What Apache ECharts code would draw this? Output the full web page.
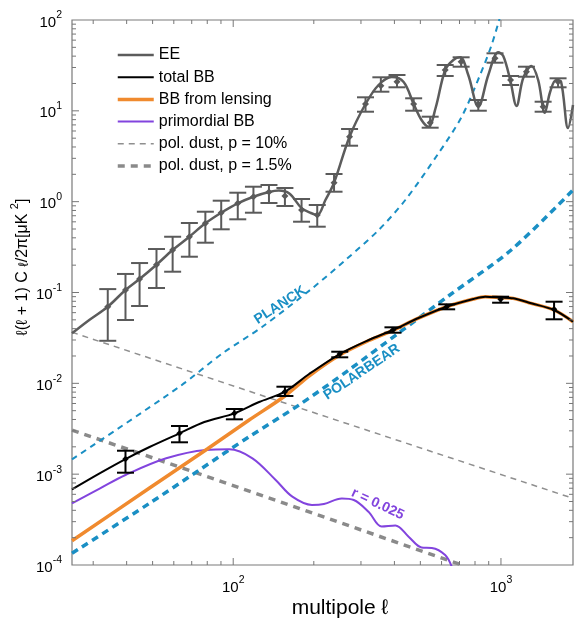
<!DOCTYPE html>
<html><head><meta charset="utf-8">
<script src="https://cdn.jsdelivr.net/npm/echarts@6/dist/echarts.min.js"></script>
<style>html,body{margin:0;padding:0;background:#fff}#c{width:576px;height:619px}</style>
</head><body><div id="c"></div>
<script>
// ---- multipole range and axis ticks ----
const xRange = [25, 1858];
const yRange = [1e-4, 100];
const xTickMajor = [100, 1000];
const xDecades = [10, 100, 1000];
const yTickMajor = [1e-3, 1e-2, 1e-1, 1, 10];
const yDecades = [1e-4, 1e-3, 1e-2, 1e-1, 1, 10];
const minorSteps = [2, 3, 4, 5, 6, 7, 8, 9];

// ---- EE theory curve ----
const eeCurveL = [25, 29, 34, 39.6, 44.7, 51.7, 59.4, 68.6, 78.7, 90.2, 104, 119, 136, 148, 162, 180, 195, 206, 221, 238, 272, 312, 349, 391, 433, 472, 505, 536, 570, 619, 664, 704, 755, 823, 897, 977, 1020, 1083, 1143, 1211, 1300, 1377, 1458, 1526, 1607, 1677, 1780, 1858];
const eeCurveV = [0.0355, 0.0498, 0.0698, 0.1065, 0.1408, 0.2023, 0.2938, 0.4113, 0.5777, 0.7559, 0.959, 1.134, 1.277, 1.327, 1.230, 0.85, 0.750, 0.713, 1.043, 1.617, 5.19, 11.89, 19.25, 23.57, 20.77, 11.89, 7.93, 6.69, 10.74, 28.15, 36.27, 38.85, 24.80, 11.10, 24.80, 44.09, 40.15, 21.85, 11.30, 22.98, 31.16, 21.85, 9.54, 16.12, 21.85, 20.93, 6.47, 11.59];

// ---- EE band powers with errors ----
const eeL    = [34, 39.6, 44.7, 51.7, 59.4, 68.6, 78.7, 90.2, 104, 119, 136, 156, 180, 206, 238, 272, 312, 356, 409, 472, 544, 619, 710, 823, 950, 1086, 1245, 1437, 1634];
const eeVal  = [0.0698, 0.1065, 0.1408, 0.2023, 0.2938, 0.4113, 0.5777, 0.7559, 0.959, 1.134, 1.277, 1.154, 0.809, 0.713, 1.617, 5.19, 11.89, 18.91, 20.93, 11.89, 7.40, 28.15, 34.75, 11.89, 37.87, 21.85, 26.97, 11.10, 20.93];
const eeHigh = [0.109, 0.160, 0.211, 0.301, 0.411, 0.582, 0.775, 1.025, 1.255, 1.461, 1.525, 1.414, 1.070, 0.919, 2.016, 6.31, 14.09, 23.40, 24.80, 13.74, 8.62, 31.96, 38.85, 13.16, 42.98, 24.18, 30.61, 12.60, 22.81];
const eeLow  = [0.0294, 0.0498, 0.0710, 0.1121, 0.1694, 0.2477, 0.3534, 0.4962, 0.6393, 0.7559, 0.9665, 0.896, 0.6016, 0.5301, 1.287, 4.131, 9.78, 16.24, 18.16, 10.03, 6.52, 24.18, 30.61, 10.03, 33.88, 19.25, 23.75, 9.78, 18.16];

// ---- total BB ----
const bbL = [25, 31.7, 39.6, 48.7, 63, 78, 101, 125, 156, 192, 250, 321, 395, 492, 627, 789, 874, 997, 1111, 1297, 1579, 1858];
const bbV = [0.000681, 0.001022, 0.001468, 0.001991, 0.002816, 0.00375, 0.004675, 0.006227, 0.008086, 0.01267, 0.02103, 0.02998, 0.03864, 0.05237, 0.0698, 0.0848, 0.0899, 0.088, 0.0863, 0.0760, 0.0642, 0.0477];
const bbPtL    = [39.6, 63, 101, 156, 250, 395, 627, 997, 1579];
const bbPtV    = [0.001468, 0.002816, 0.004675, 0.008086, 0.02103, 0.03864, 0.0698, 0.0841, 0.0653];
const bbPtHigh = [0.001812, 0.003389, 0.005217, 0.00918, 0.02229, 0.04137, 0.0741, 0.0899, 0.0792];
const bbPtLow  = [0.001038, 0.002243, 0.004016, 0.007251, 0.01934, 0.03608, 0.0653, 0.0772, 0.0507];

// ---- BB from lensing ----
const lensL = [25, 48.7, 80, 114.7, 156, 192, 250, 321, 395, 492, 627, 789, 874, 997, 1111, 1297, 1579, 1858];
const lensV = [0.000185, 0.000704, 0.001891, 0.003947, 0.007251, 0.01204, 0.0205, 0.0296, 0.0383, 0.0522, 0.0697, 0.0847, 0.0898, 0.0879, 0.0862, 0.0760, 0.0642, 0.0477];

// ---- primordial BB, r = 0.025 ----
const primL = [25, 31.7, 39.6, 56.2, 79.1, 96.6, 118, 144.1, 166.3, 196.8, 218.1, 254.5, 282, 320.7, 358.4, 403.2, 451.9, 505.1, 551.7, 618.8, 655];
const primV = [0.000478, 0.000693, 0.000979, 0.001494, 0.001845, 0.001878, 0.001494, 0.000862, 0.000565, 0.000458, 0.000469, 0.000539, 0.000519, 0.000383, 0.000265, 0.000272, 0.000205, 0.000156, 0.000154, 0.000129, 0.0000957];

// ---- polarized dust ----
const dust10L = [25, 132.3, 1858];
const dust10V = [0.0365, 0.00712, 0.000542];
const dust15L = [25, 176.1, 713.6];
const dust15V = [0.00306, 0.000421, 0.0001];

// ---- experiment noise levels ----
const planckL = [25, 63, 91.2, 128.5, 197.3, 262.7, 349.4, 439.3, 584.3, 713.6, 835.4, 922.7, 994];
const planckV = [0.001457, 0.00918, 0.0214, 0.0420, 0.1112, 0.2279, 0.4876, 1.043, 3.408, 8.62, 24.8, 53.1, 110];
const pbL = [25, 48.7, 74.7, 114.7, 176.1, 270.2, 414.8, 636.6, 1092, 1858];
const pbV = [0.0001345, 0.000478, 0.001111, 0.002584, 0.005772, 0.01402, 0.0358, 0.0915, 0.2938, 1.344];

const legendNames = ['EE', 'total BB', 'BB from lensing', 'primordial BB', 'pol. dust, p = 10%', 'pol. dust, p = 1.5%'];

const FONT = '"Liberation Sans", Arial, Helvetica, sans-serif';
const BLUE = '#1a8fc4';
const PURPLE = '#8244de';

const zip = (a, b) => a.map((v, i) => [v, b[i]]);
const zip4 = (a, b, c, d) => a.map((v, i) => [v, b[i], c[i], d[i]]);

function powLabel(v) {
  const lg = Math.log10(v);
  const e = Math.round(lg);
  if (Math.abs(lg - e) > 1e-6) return '';
  return '{b|10}{s|' + (e < 0 ? '-' + (-e) : e) + '}';
}
const labelRich = {
  b: { fontSize: 15, lineHeight: 20, verticalAlign: 'bottom', fontFamily: FONT, color: '#000' },
  s: { fontSize: 10.5, lineHeight: 11, verticalAlign: 'top', fontFamily: FONT, color: '#000' }
};

function errorBars(capW, color, half) {
  return function (params, api) {
    const p = api.coord([api.value(0), api.value(1)]);
    const lo = api.coord([api.value(0), api.value(2)]);
    const hi = api.coord([api.value(0), api.value(3)]);
    const st = { stroke: color, lineWidth: 2 };
    return {
      type: 'group', children: [
        { type: 'line', shape: { x1: p[0], y1: lo[1], x2: p[0], y2: hi[1] }, style: st },
        { type: 'line', shape: { x1: p[0] - capW / 2, y1: lo[1], x2: p[0] + capW / 2, y2: lo[1] }, style: st },
        { type: 'line', shape: { x1: p[0] - capW / 2, y1: hi[1], x2: p[0] + capW / 2, y2: hi[1] }, style: st },
        { type: 'polygon', shape: { points: [[p[0], p[1] - half], [p[0] + half, p[1]], [p[0], p[1] + half], [p[0] - half, p[1]]] }, style: { fill: color } }
      ]
    };
  };
}

// tick marks drawn inward on all four sides of the frame
function xTicks(params, api) {
  const cs = params.coordSys;
  const px = api.coord([api.value(0), 1])[0];
  const len = api.value(2);
  const st = { stroke: '#777', lineWidth: 1 };
  return { type: 'group', children: [
    { type: 'line', shape: { x1: px, y1: cs.y + cs.height, x2: px, y2: cs.y + cs.height - len }, style: st },
    { type: 'line', shape: { x1: px, y1: cs.y, x2: px, y2: cs.y + len }, style: st }
  ]};
}
function yTicks(params, api) {
  const cs = params.coordSys;
  const py = api.coord([100, api.value(1)])[1];
  const len = api.value(2);
  const st = { stroke: '#777', lineWidth: 1 };
  return { type: 'group', children: [
    { type: 'line', shape: { x1: cs.x, y1: py, x2: cs.x + len, y2: py }, style: st },
    { type: 'line', shape: { x1: cs.x + cs.width, y1: py, x2: cs.x + cs.width - len, y2: py }, style: st }
  ]};
}

const xTickData = [];
xTickMajor.forEach(v => xTickData.push([v, 1, 7]));
xDecades.forEach(d => minorSteps.forEach(m => {
  const v = d * m;
  if (v > xRange[0] && v < xRange[1]) xTickData.push([v, 1, 4]);
}));
const yTickData = [];
yTickMajor.forEach(v => yTickData.push([100, v, 7]));
yDecades.forEach(d => minorSteps.forEach(m => yTickData.push([100, d * m, 4])));

const lineSeries = (name, xs, ys, color, width, type, z, smooth) => ({
  name: name, type: 'line', data: zip(xs, ys), symbol: 'none', smooth: smooth,
  lineStyle: { color: color, width: width, type: type }, itemStyle: { color: color },
  z: z, silent: true, animation: false
});

const chart = echarts.init(document.getElementById('c'), null, { renderer: 'canvas' });
chart.setOption({
  animation: false,
  grid: { left: 72, top: 20, width: 503, height: 545, show: true, borderColor: '#7a7a7a', borderWidth: 1.2, backgroundColor: 'transparent' },
  xAxis: {
    type: 'log', logBase: 10, min: xRange[0], max: xRange[1],
    axisLine: { show: false }, axisTick: { show: false }, splitLine: { show: false },
    axisLabel: { formatter: powLabel, rich: labelRich, margin: 10 }
  },
  yAxis: {
    type: 'log', logBase: 10, min: yRange[0], max: yRange[1],
    axisLine: { show: false }, axisTick: { show: false }, splitLine: { show: false },
    axisLabel: { formatter: powLabel, rich: labelRich, margin: 10 }
  },
  legend: {
    data: legendNames, orient: 'vertical', left: 116, top: 47, padding: 0,
    itemWidth: 36, itemHeight: 12, itemGap: 6.2, selectedMode: false,
    textStyle: { fontSize: 16, lineHeight: 16, fontFamily: FONT, color: '#000' },
    lineStyle: { width: 'inherit' },
    itemStyle: { opacity: 0 }
  },
  series: [
    lineSeries('pol. dust, p = 10%', dust10L, dust10V, '#8f8f8f', 1.5, [6, 5], 1, false),
    lineSeries('pol. dust, p = 1.5%', dust15L, dust15V, '#8a8a8a', 3.5, [7, 6], 1, false),
    lineSeries('PLANCK', planckL, planckV, BLUE, 2, [6, 5], 2, 0.3),
    lineSeries('POLARBEAR', pbL, pbV, BLUE, 3.5, [7, 5], 2, 0.3),
    lineSeries('primordial BB', primL, primV, PURPLE, 2, 'solid', 3, 0.35),
    lineSeries('BB from lensing', lensL, lensV, '#f08a2e', 3.5, 'solid', 4, 0.3),
    lineSeries('total BB', bbL, bbV, '#000000', 2, 'solid', 5, 0.3),
    lineSeries('EE', eeCurveL, eeCurveV, '#5c5c5c', 2.5, 'solid', 5, 0.35),
    { type: 'custom', data: zip4(eeL, eeVal, eeLow, eeHigh), renderItem: errorBars(17, '#5a5a5a', 3.5), encode: { x: 0, y: 1 }, z: 6, silent: true },
    { type: 'custom', data: zip4(bbPtL, bbPtV, bbPtLow, bbPtHigh), renderItem: errorBars(17, '#000000', 3.2), encode: { x: 0, y: 1 }, z: 6, silent: true },
    { type: 'custom', data: xTickData, renderItem: xTicks, encode: { x: 0, y: 1 }, z: 10, silent: true },
    { type: 'custom', data: yTickData, renderItem: yTicks, encode: { x: 0, y: 1 }, z: 10, silent: true }
  ]
});

// curve annotations anchored in data space (angle in degrees, counter-clockwise)
const notes = [
  { text: 'PLANCK', at: [149.6, 0.0728], angle: 33, color: BLUE, size: 14 },
  { text: 'POLARBEAR', at: [302, 0.01332], angle: 34, color: BLUE, size: 14 },
  { text: 'r = 0.025', at: [346.5, 0.000469], angle: -25, color: PURPLE, size: 14 }
];
const graphics = notes.map(n => {
  const p = chart.convertToPixel({ gridIndex: 0 }, n.at);
  return {
    type: 'text', x: p[0], y: p[1], rotation: n.angle * Math.PI / 180, z: 20,
    style: { text: n.text, fill: n.color, font: 'bold ' + n.size + 'px ' + FONT, align: 'center', verticalAlign: 'middle' }
  };
});
graphics.push({
  type: 'text', x: 340, y: 608, z: 20,
  style: { text: 'multipole ℓ', fill: '#000', font: '21px ' + FONT, align: 'center', verticalAlign: 'middle' }
});
graphics.push({
  type: 'text', x: 20, y: 267, rotation: Math.PI / 2, z: 20,
  style: {
    text: '{n|ℓ(ℓ + 1) C }{sub|ℓ}{n|/2π[μK }{sup|2}{n|]}', align: 'center', verticalAlign: 'middle',
    rich: {
      n: { fontSize: 16, lineHeight: 22, verticalAlign: 'bottom', fontFamily: FONT, fill: '#000', color: '#000' },
      sub: { fontSize: 14, lineHeight: 18, verticalAlign: 'bottom', fontFamily: FONT, fill: '#000', color: '#000' },
      sup: { fontSize: 11, lineHeight: 11, verticalAlign: 'top', fontFamily: FONT, fill: '#000', color: '#000' }
    }
  }
});
chart.setOption({ graphic: graphics });
</script></body></html>
